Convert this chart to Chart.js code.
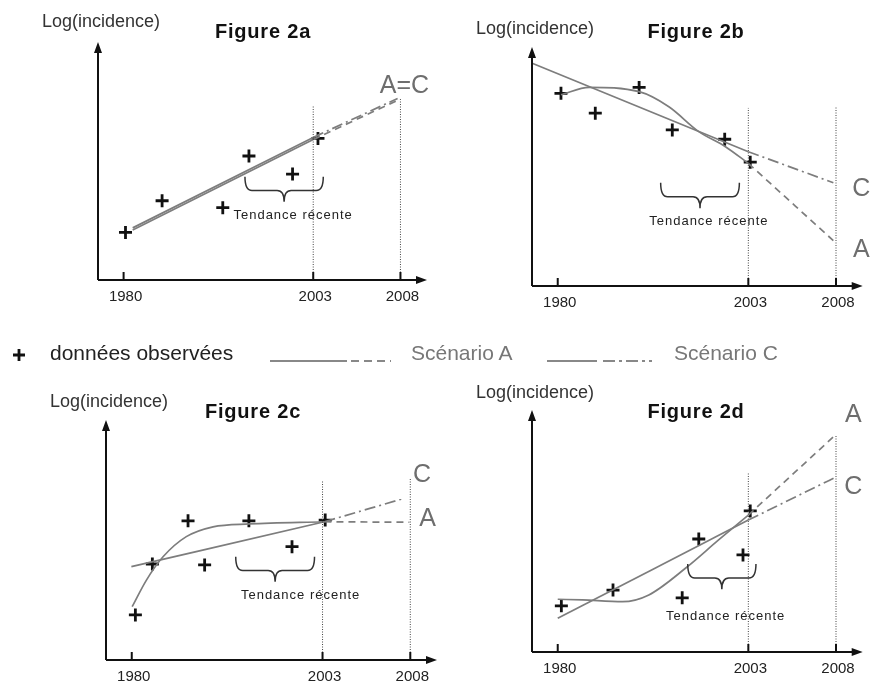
<!DOCTYPE html>
<html lang="fr">
<head>
<meta charset="utf-8">
<title>Figure 2 - Log(incidence)</title>
<script src="https://cdn.jsdelivr.net/npm/chart.js@4.4.1/dist/chart.umd.min.js"></script>
<style>
    body { margin: 0; background: #fff; }
    #page { position: relative; width: 872px; height: 684px; overflow: hidden; }
    #page canvas { position: absolute; left: 0; top: 0; }
    #legend { position: absolute; left: 0; top: 320px; }
    #legend text { font-family: 'Liberation Sans', Arial, sans-serif; font-size: 21px; }
</style>
</head>
<body>
<div id="page">
    <canvas id="fig2a" width="872" height="684"></canvas>
    <canvas id="fig2b" width="872" height="684"></canvas>
    <canvas id="fig2c" width="872" height="684"></canvas>
    <canvas id="fig2d" width="872" height="684"></canvas>
    <svg id="legend" width="872" height="60">
        <path d="M13 35 H25 M19 29 V41" stroke="#111" stroke-width="2.8" fill="none"/>
        <text x="50" y="40" fill="#222">données observées</text>
        <line x1="270" y1="41" x2="347" y2="41" stroke="#888" stroke-width="2"/>
        <line x1="351" y1="41" x2="391" y2="41" stroke="#888" stroke-width="2" stroke-dasharray="8 5"/>
        <text x="411" y="40" fill="#777">Scénario A</text>
        <line x1="547" y1="41" x2="597" y2="41" stroke="#888" stroke-width="2"/>
        <line x1="603" y1="41" x2="652" y2="41" stroke="#888" stroke-width="2" stroke-dasharray="12 4 3 4"/>
        <text x="674" y="40" fill="#777">Scénario C</text>
    </svg>
</div>
<script>
// x is schematic: 1980 -> 0, 2003 -> 100, and the 5 years to 2008 are drawn wider
const tickLabels = ['1980', '2003', '2008'];
const tickPos = [0, 100, 146];
const xRange = [-13.5, 160];
const yRange = [0, 100];

// Figure 2a
const obs2a = [[1, 20], [20.3, 33.3], [66.1, 52.1], [52.3, 30.4], [89.1, 44.5], [102.5, 59.5]];
const fitA2a = [[4.8, 21], [100, 59]];
const projA2a = [[100, 59], [144.5, 75.5]];
const fitC2a = [[4.8, 21.9], [100, 59.9]];
const projC2a = [[100, 59.9], [144.5, 76.3]];
const guides2a = [73, 76];

// Figure 2b
const obs2b = [[1.7, 80.6], [19.7, 72.3], [42.7, 83.1], [60.1, 65.3], [87.6, 61.4], [101, 51.8]];
const fitA2b = [[1.7, 80], [16.5, 83.1], [42.7, 81.3], [58.3, 75], [74, 64.6], [88, 58.3], [100, 51.3]];
const projA2b = [[100, 51.3], [144.6, 19]];
const fitC2b = [[-13.4, 93.2], [100, 56.2]];
const projC2b = [[100, 56.2], [144.6, 43.2]];
const guides2b = [74.5, 75.3];

// Figure 2c
const obs2c = [[1.9, 18.8], [10.8, 40], [29.5, 58], [38.2, 39.6], [61.4, 58], [84, 47.2], [101.4, 58.3]];
const fitA2c = [[0.2, 22.2], [7.7, 33.3], [16.4, 43], [28.6, 51.4], [42.6, 55.5], [61.8, 56.7], [101, 57.6]];
const projA2c = [[101, 57.6], [145.5, 57.4]];
const fitC2c = [[-0.2, 38.9], [101, 57.6]];
const projC2c = [[101, 57.6], [143, 67.4]];
const guides2c = [75, 75.8];

// Figure 2d
const obs2d = [[1.9, 19.1], [29, 25.6], [65.3, 22.4], [74, 46.7], [97.2, 40.1], [101, 58.3]];
const fitA2d = [[0, 21.8], [13, 21.5], [34, 20.8], [47.8, 23.6], [67, 34.6], [84.4, 46.3], [100, 56.6]];
const projA2d = [[100, 56.6], [145.2, 89.3]];
const fitC2d = [[0, 13.9], [100, 54.5]];
const projC2d = [[100, 54.5], [144.7, 71.8]];
const guides2d = [74, 89.7];

const FONT = "'Liberation Sans', Arial, sans-serif";
const LINE = '#7d7d7d';

// layout of each panel (page pixels) and its annotations (data units)
const figures = [
    {
        id: 'fig2a', title: 'Figure 2a', area: [98, 42, 427, 280], titleAt: [263, 32], yLabelAt: [101, 22],
        obs: obs2a, fitA: fitA2a, projA: projA2a, fitC: fitC2a, projC: projC2a, guides: guides2a,
        letters: [['A=C', 148.1, 81.5]],
        brace: { x1: 64, x2: 105.3, top: 43.4, tip: 32.9, textX: 89.4, textY: 27.3 }
    },
    {
        id: 'fig2b', title: 'Figure 2b', area: [532, 47, 864, 286], titleAt: [696, 32], yLabelAt: [535, 29],
        obs: obs2b, fitA: fitA2b, projA: projA2b, fitC: fitC2b, projC: projC2b, guides: guides2b,
        letters: [['C', 159.3, 40.5], ['A', 159.3, 15.1]],
        brace: { x1: 54, x2: 95.3, top: 43.2, tip: 32.5, textX: 79.3, textY: 26.9 }
    },
    {
        id: 'fig2c', title: 'Figure 2c', area: [106, 420, 437, 660], titleAt: [253, 412], yLabelAt: [109, 402],
        obs: obs2c, fitA: fitA2c, projA: projA2c, fitC: fitC2c, projC: projC2c, guides: guides2c,
        letters: [['C', 152.2, 77.1], ['A', 155.1, 58.6]],
        brace: { x1: 54.5, x2: 95.8, top: 43, tip: 32.6, textX: 88.5, textY: 27.1 }
    },
    {
        id: 'fig2d', title: 'Figure 2d', area: [532, 410, 864, 652], titleAt: [696, 412], yLabelAt: [535, 393],
        obs: obs2d, fitA: fitA2d, projA: projA2d, fitC: fitC2d, projC: projC2d, guides: guides2d,
        letters: [['A', 155.1, 97.9], ['C', 155.1, 68.3]],
        brace: { x1: 68.2, x2: 104, top: 36.4, tip: 25.9, textX: 88.1, textY: 14.9 }
    }
];

function pts(list) {
    return list.map(([x, y]) => ({ x, y }));
}

function text(ctx, str, x, y, font, color, spacing) {
    ctx.save();
    ctx.font = font;
    ctx.fillStyle = color;
    ctx.textAlign = 'center';
    ctx.textBaseline = 'middle';
    ctx.letterSpacing = spacing || '0px';
    ctx.fillText(str, x, y);
    ctx.restore();
}

// axes with arrows, ticks, titles, brace and scenario letters
function overlay(fig) {
    return {
        id: 'overlay',
        afterDatasetsDraw(chart) {
            const ctx = chart.ctx;
            const { left, right, top, bottom } = chart.chartArea;
            const xs = chart.scales.x;
            const ys = chart.scales.y;

            ctx.save();
            ctx.strokeStyle = '#111';
            ctx.fillStyle = '#111';
            ctx.lineWidth = 2;
            ctx.beginPath();
            ctx.moveTo(left, bottom);
            ctx.lineTo(right - 6, bottom);
            ctx.moveTo(left, bottom);
            ctx.lineTo(left, top + 6);
            ctx.stroke();
            ctx.beginPath();
            ctx.moveTo(right, bottom);
            ctx.lineTo(right - 11, bottom - 4);
            ctx.lineTo(right - 11, bottom + 4);
            ctx.closePath();
            ctx.moveTo(left, top);
            ctx.lineTo(left - 4, top + 11);
            ctx.lineTo(left + 4, top + 11);
            ctx.closePath();
            ctx.fill();

            tickPos.forEach((v, i) => {
                const px = xs.getPixelForValue(v);
                ctx.beginPath();
                ctx.moveTo(px, bottom - 8);
                ctx.lineTo(px, bottom);
                ctx.stroke();
                text(ctx, tickLabels[i], px + 2, bottom + 17, '15px ' + FONT, '#222');
            });

            // "Tendance récente" brace
            const b = fig.brace;
            const x1 = xs.getPixelForValue(b.x1);
            const x2 = xs.getPixelForValue(b.x2);
            const xm = (x1 + x2) / 2;
            const yT = ys.getPixelForValue(b.top);
            const yP = ys.getPixelForValue(b.tip);
            const yM = yT + (yP - yT) * 0.55;
            const r = 7;
            ctx.strokeStyle = '#333';
            ctx.lineWidth = 1.5;
            ctx.beginPath();
            ctx.moveTo(x1, yT);
            ctx.quadraticCurveTo(x1, yM, x1 + r, yM);
            ctx.lineTo(xm - r, yM);
            ctx.quadraticCurveTo(xm, yM, xm, yP);
            ctx.quadraticCurveTo(xm, yM, xm + r, yM);
            ctx.lineTo(x2 - r, yM);
            ctx.quadraticCurveTo(x2, yM, x2, yT);
            ctx.stroke();
            ctx.restore();

            text(ctx, 'Tendance récente', xs.getPixelForValue(b.textX), ys.getPixelForValue(b.textY),
                '13px ' + FONT, '#222', '1px');

            fig.letters.forEach(([str, x, y]) => {
                text(ctx, str, xs.getPixelForValue(x), ys.getPixelForValue(y), '25px ' + FONT, '#6e6e6e');
            });

            text(ctx, fig.title, fig.titleAt[0], fig.titleAt[1], 'bold 20px ' + FONT, '#111', '0.8px');
            text(ctx, 'Log(incidence)', fig.yLabelAt[0], fig.yLabelAt[1], '18px ' + FONT, '#333');
        }
    };
}

function guide(x, height) {
    return {
        label: 'repère',
        data: [{ x, y: 0 }, { x, y: height }],
        showLine: true,
        borderColor: '#444',
        borderWidth: 1,
        borderDash: [1, 1.5],
        pointRadius: 0
    };
}

function curve(label, data, dash) {
    return {
        label,
        data: pts(data),
        showLine: true,
        borderColor: LINE,
        borderWidth: 1.7,
        borderDash: dash,
        pointRadius: 0,
        cubicInterpolationMode: 'monotone'
    };
}

function makeFigure(fig) {
    const [aLeft, aTop, aRight, aBottom] = fig.area;
    return new Chart(document.getElementById(fig.id), {
        type: 'scatter',
        data: {
            datasets: [
                guide(tickPos[1], fig.guides[0]),
                guide(tickPos[2], fig.guides[1]),
                curve('Scénario A', fig.fitA, []),
                curve('Scénario A projection', fig.projA, [7, 5]),
                curve('Scénario C', fig.fitC, []),
                curve('Scénario C projection', fig.projC, [11, 4, 2, 4]),
                {
                    label: 'données observées',
                    data: pts(fig.obs),
                    pointStyle: 'cross',
                    pointRadius: 6.5,
                    borderWidth: 2.8,
                    borderColor: '#111',
                    showLine: false
                }
            ]
        },
        options: {
            responsive: false,
            animation: false,
            events: [],
            clip: false,
            layout: {
                padding: { left: aLeft, top: aTop, right: 872 - aRight, bottom: 684 - aBottom }
            },
            scales: {
                x: { type: 'linear', display: false, min: xRange[0], max: xRange[1] },
                y: { type: 'linear', display: false, min: yRange[0], max: yRange[1] }
            },
            plugins: {
                legend: { display: false },
                tooltip: { enabled: false }
            }
        },
        plugins: [overlay(fig)]
    });
}

figures.forEach(makeFigure);
</script>
</body>
</html>
